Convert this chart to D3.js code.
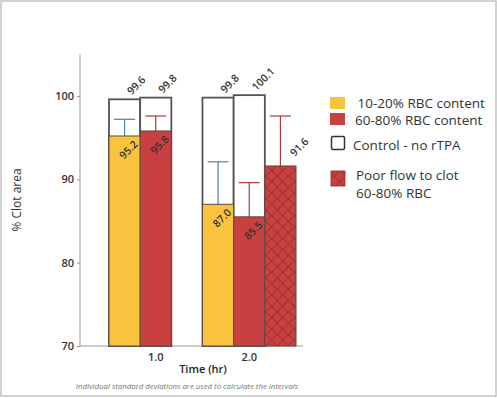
<!DOCTYPE html>
<html>
<head>
<meta charset="utf-8">
<script src="https://cdn.jsdelivr.net/npm/d3@7"></script>
<style>
  body { margin: 0; background: #fff; }
  svg { display: block; font-family: "Open Sans", "Noto Sans", sans-serif; }
</style>
</head>
<body>
<svg id="chart" width="497" height="398"></svg>
<script>
// ---- data ----
const categories = ["1.0", "2.0"];
const rbcLow = [95.2, 87.0];          // 10-20% RBC content
const rbcHigh = [95.8, 85.5];         // 60-80% RBC content
const controlLow = [99.6, 99.8];      // control - no rTPA (10-20% slot)
const controlHigh = [99.8, 100.1];    // control - no rTPA (60-80% slot)
const poorFlow = [null, 91.6];        // poor flow to clot 60-80% RBC
const upperLow = [97.2, 92.1];        // upper interval ends
const upperHigh = [97.6, 89.6];
const upperPoor = [null, 97.6];
const yTicks = [70, 80, 90, 100];
const legendLabels = [" 10-20% RBC content", "60-80% RBC content", "Control - no rTPA", "Poor flow to clot", "60-80% RBC"];

const colYellow = "#F9C33E", colRed = "#C8403F", colBlueErr = "#4F80A8", colRedErr = "#B2393A";

const svg = d3.select("#chart");

// border
svg.append("rect").attr("x", 1).attr("y", 1).attr("width", 495).attr("height", 395)
  .attr("fill", "none").attr("stroke", "#c4c4c4").attr("stroke-width", 1.5);

// hatch pattern
const defs = svg.append("defs");
const pat = defs.append("pattern").attr("id", "hatch").attr("patternUnits", "userSpaceOnUse")
  .attr("width", 8).attr("height", 8).attr("patternTransform", "rotate(45)");
pat.append("rect").attr("width", 8).attr("height", 8).attr("fill", colRed);
pat.append("line").attr("x1", 0).attr("y1", 0).attr("x2", 8).attr("y2", 0).attr("stroke", "#8E2A2A").attr("stroke-width", 1.2);
pat.append("line").attr("x1", 0).attr("y1", 0).attr("x2", 0).attr("y2", 8).attr("stroke", "#8E2A2A").attr("stroke-width", 1.2);

// scales
const y = d3.scaleLinear().domain([70, 105]).range([346, 54.3]);
const x = d3.scaleBand().domain(categories).range([109, 296]).paddingInner(0);
const xs = d3.scaleBand().domain(["low", "high", "poor"]).range([0, x.bandwidth()]);

// axes
const yAxis = d3.axisLeft(y).tickValues(yTicks).tickSize(3).tickPadding(3).tickFormat(d3.format("d"));
const gy = svg.append("g").attr("transform", "translate(80,0)").call(yAxis);
gy.select(".domain").attr("stroke", "#999").attr("d", `M0,${y(105)}V${y(70)}`);
gy.selectAll(".tick line").attr("stroke", "#999");
gy.selectAll(".tick text").attr("font-size", 11).attr("font-weight", 600).attr("fill", "#333")
  .attr("font-family", "'Open Sans', sans-serif");

const gx = svg.append("g").attr("transform", `translate(0,${y(70)})`);
gx.append("line").attr("x1", 80).attr("x2", 303).attr("stroke", "#999").attr("stroke-width", 1);
gx.selectAll("text").data(categories).join("text")
  .attr("x", d => x(d) + xs("high") + xs.bandwidth() / 2)
  .attr("y", 15).attr("text-anchor", "middle")
  .attr("font-size", 11).attr("font-weight", 600).attr("fill", "#333")
  .text(d => d);

// titles
svg.append("text").attr("x", 203).attr("y", 373).attr("text-anchor", "middle")
  .attr("font-size", 11).attr("font-weight", 600).attr("fill", "#222").text("Time (hr)");
svg.append("text").attr("transform", "translate(21,200) rotate(-90)").attr("text-anchor", "middle")
  .attr("font-size", 12).attr("fill", "#333").text("% Clot area");
svg.append("text").attr("x", 187).attr("y", 389).attr("text-anchor", "middle")
  .attr("font-size", 7.8).attr("font-style", "italic").attr("fill", "#777")
  .text("Individual standard deviations are used to calculate the intervals");

// records
const recs = [];
categories.forEach((c, i) => {
  recs.push({ c, slot: "low", control: controlLow[i], val: rbcLow[i], up: upperLow[i], fill: colYellow, err: colBlueErr });
  recs.push({ c, slot: "high", control: controlHigh[i], val: rbcHigh[i], up: upperHigh[i], fill: colRed, err: colRedErr });
  if (poorFlow[i] != null) recs.push({ c, slot: "poor", control: null, val: poorFlow[i], up: upperPoor[i], fill: "url(#hatch)", err: colRedErr });
});
const bx = d => x(d.c) + xs(d.slot);
const cx = d => bx(d) + xs.bandwidth() / 2;

// control bars
const ctrl = recs.filter(d => d.control != null);
svg.append("g").selectAll("rect").data(ctrl).join("rect")
  .attr("x", bx).attr("width", xs.bandwidth())
  .attr("y", d => y(d.control)).attr("height", d => y(70) - y(d.control))
  .attr("fill", "#fff").attr("stroke", "#555").attr("stroke-width", 1.8);

// error bars
const eg = svg.append("g");
eg.selectAll("line.v").data(recs).join("line").attr("class", "v")
  .attr("x1", cx).attr("x2", cx).attr("y1", d => y(d.val)).attr("y2", d => y(d.up))
  .attr("stroke", d => d.err).attr("stroke-width", 1.2);
eg.selectAll("line.c").data(recs).join("line").attr("class", "c")
  .attr("x1", d => cx(d) - 10.5).attr("x2", d => cx(d) + 10.5).attr("y1", d => y(d.up)).attr("y2", d => y(d.up))
  .attr("stroke", d => d.err).attr("stroke-width", 1.2);

// value bars
svg.append("g").selectAll("rect").data(recs).join("rect")
  .attr("x", bx).attr("width", xs.bandwidth())
  .attr("y", d => y(d.val)).attr("height", d => y(70) - y(d.val))
  .attr("fill", d => d.fill).attr("stroke", "#5a4a40").attr("stroke-width", 1);

// labels
const lab = svg.append("g").attr("font-size", 10.5).attr("font-weight", 600).attr("fill", "#333");
function addLabel(px, py, anchor, v) {
  lab.append("g").attr("transform", `translate(${px},${py})`)
    .append("text").attr("text-anchor", anchor).attr("transform", "rotate(-45)")
    .text(d3.format(".1f")(v));
}
ctrl.forEach(d => addLabel(cx(d) + 7, y(d.control) - 4, "start", d.control));
recs.forEach(d => {
  if (d.slot === "poor") addLabel(cx(d) + 14, y(d.val) - 9, "start", d.val);
  else addLabel(cx(d) + 14, y(d.val) + 9, "end", d.val);
});

// legend
const lg = svg.append("g");
lg.append("rect").attr("x", 330).attr("y", 97).attr("width", 15).attr("height", 12).attr("fill", colYellow);
lg.append("rect").attr("x", 330).attr("y", 113).attr("width", 15).attr("height", 12).attr("fill", colRed);
lg.append("rect").attr("x", 331.5).attr("y", 136.5).attr("width", 13).attr("height", 13).attr("rx", 1.5)
  .attr("fill", "#fff").attr("stroke", "#333").attr("stroke-width", 1.5);
lg.append("rect").attr("x", 331).attr("y", 171).attr("width", 14).attr("height", 15).attr("fill", "url(#hatch)")
  .attr("stroke", "#8E2A2A").attr("stroke-width", 0.8);
const lt = lg.append("g").attr("font-size", 13.5).attr("fill", "#333");
const lpos = [[354, 108], [355, 124.5], [353, 149.5], [356, 180], [356, 198]];
legendLabels.forEach((t, i) => {
  lt.append("text").attr("x", lpos[i][0]).attr("y", lpos[i][1]).attr("xml:space", "preserve")
    .style("white-space", "pre").text(t);
});
</script>
</body>
</html>
